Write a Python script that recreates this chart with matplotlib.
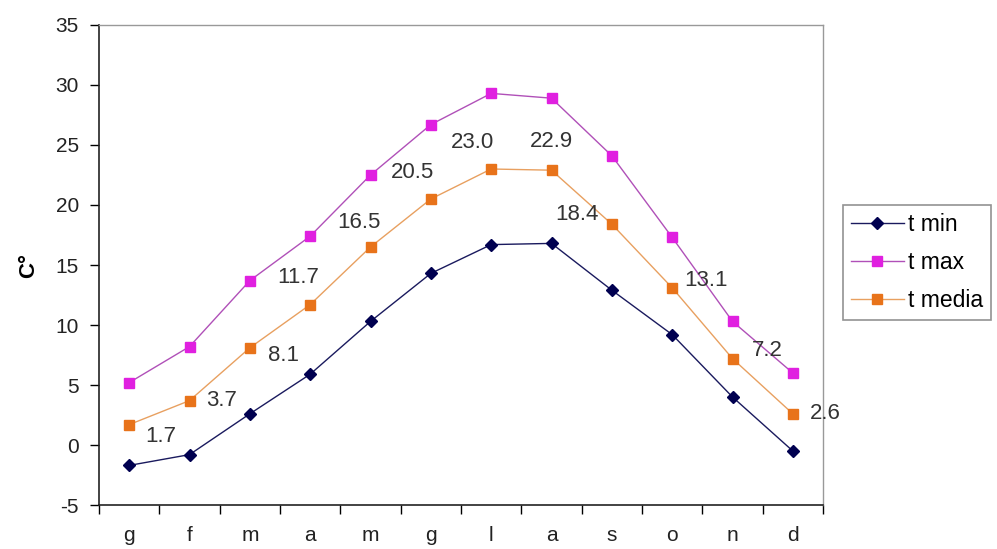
import numpy as np
import matplotlib
matplotlib.use("Agg")
import matplotlib.pyplot as plt

plt.rcParams["font.family"] = ["Liberation Sans", "DejaVu Sans"]
plt.rcParams["axes.unicode_minus"] = False

# ==============================
# data
# ==============================
mesi = ["g", "f", "m", "a", "m", "g", "l", "a", "s", "o", "n", "d"]

t_min = [-1.7, -0.8, 2.6, 5.9, 10.3, 14.3, 16.7, 16.8, 12.9, 9.2, 4.0, -0.5]
t_max = [5.2, 8.2, 13.7, 17.4, 22.5, 26.7, 29.3, 28.9, 24.1, 17.3, 10.3, 6.0]
t_media = [1.7, 3.7, 8.1, 11.7, 16.5, 20.5, 23.0, 22.9, 18.4, 13.1, 7.2, 2.6]

# label offsets in pixels (dx, dy) for the t media values
label_off = [(32, -12), (32, 0), (34, -8), (-12, 27), (-12, 25), (-18, 26),
             (-19, 26), (0, 29), (-35, 10), (34, 7), (35, 8), (32, 0)]

# ==============================
# plot
# ==============================
fig = plt.figure(figsize=(9.97, 5.49), dpi=100)
ax = fig.add_axes([0.0993, 0.0801, 0.7262, 0.8744])

x = np.arange(len(mesi))

ax.plot(x, t_min, color="#1a1a5e", lw=1, marker="D", ms=6,
        mfc="#000050", mec="#000050", label="t min")
ax.plot(x, t_max, color="#b050b8", lw=1, marker="s", ms=7.5,
        mfc="#e020e0", mec="#e020e0", label="t max")
ax.plot(x, t_media, color="#e8a060", lw=1, marker="s", ms=7.5,
        mfc="#e8731a", mec="#e8731a", label="t media")

for i, v in enumerate(t_media):
    dx, dy = label_off[i]
    ax.annotate(f"{v:.1f}", (x[i], v), xytext=(dx * 0.72, dy * 0.72),
                textcoords="offset points", ha="center", va="center",
                fontsize=16, color="#333333")

ax.set_xlim(-0.5, 11.5)
ax.set_ylim(-5, 35)
ax.set_yticks(range(-5, 36, 5))
ax.set_xticks(x)
ax.set_xticklabels(mesi)
ax.set_xticks(np.arange(-0.5, 12, 1), minor=True)

ax.tick_params(axis="x", which="major", length=0, pad=15, labelsize=15,
               labelcolor="#222222")
ax.tick_params(axis="x", which="minor", length=6.5, width=1, direction="out")
ax.tick_params(axis="y", length=6.5, width=1, pad=8, labelsize=15,
               labelcolor="#222222")

for s in ["left", "bottom"]:
    ax.spines[s].set_color("#222222")
    ax.spines[s].set_linewidth(1.2)
for s in ["top", "right"]:
    ax.spines[s].set_color("#999999")
    ax.spines[s].set_linewidth(1)

ax.set_ylabel("C°", fontsize=16, fontweight="bold", labelpad=12)

leg = ax.legend(loc="upper left", bbox_to_anchor=(0.8455, 0.6266),
                bbox_transform=fig.transFigure, frameon=True, fancybox=False,
                fontsize=16.5, handlelength=2.3, handletextpad=0.2,
                borderpad=0.35, labelspacing=0.65, borderaxespad=0)
leg.get_frame().set_edgecolor("#777777")
leg.get_frame().set_linewidth(1.2)

fig.savefig("out.png", dpi=100)
